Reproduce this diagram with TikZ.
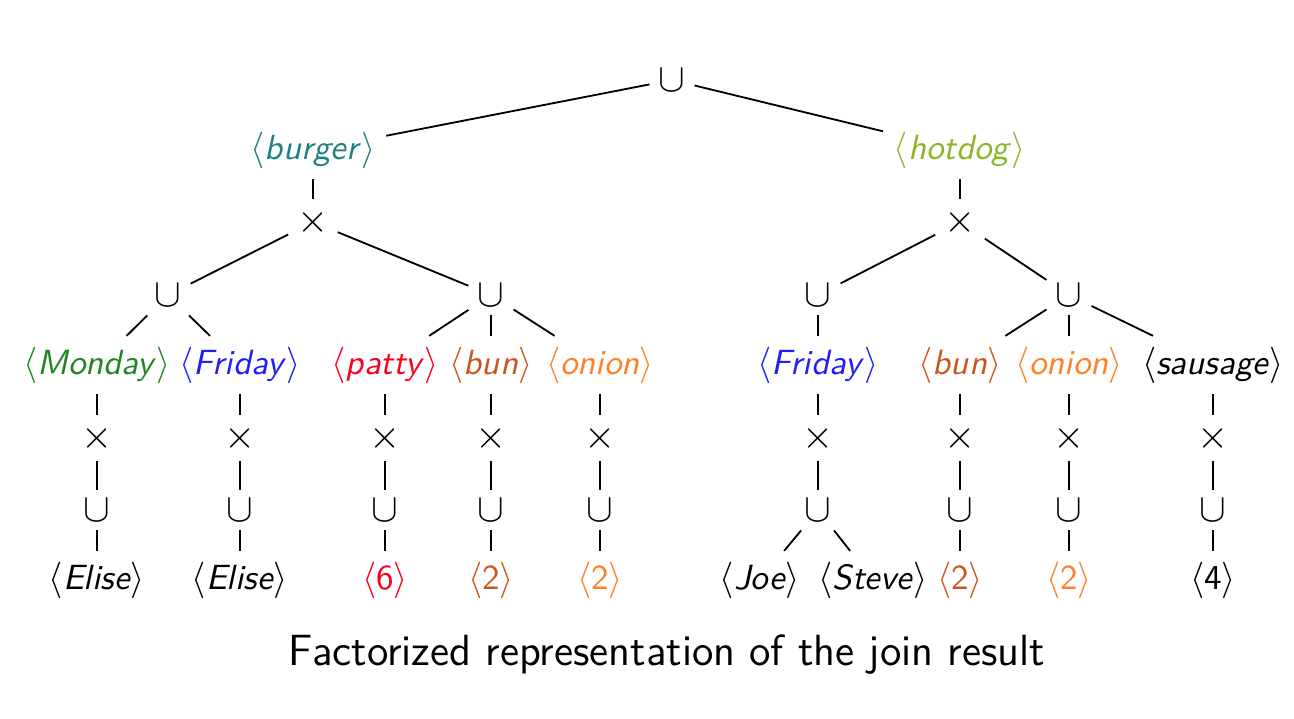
\documentclass[tikz,border=0pt]{standalone}
\usetikzlibrary{positioning}
\definecolor{burgerc}{RGB}{32,128,128}
\definecolor{hotdogc}{RGB}{140,182,40}
\definecolor{mondayc}{RGB}{34,134,34}
\definecolor{fridayc}{RGB}{30,30,250}
\definecolor{pattyc}{RGB}{250,0,30}
\definecolor{bunc}{RGB}{204,85,30}
\definecolor{onionc}{RGB}{255,128,40}
\newcommand{\tup}[1]{$\langle$#1$\rangle$}
\tikzset{every node/.style={font=\sffamily\fontsize{10.5}{12}\selectfont, inner sep=3pt},
	sym/.style={font=\fontsize{13}{15}\selectfont, inner sep=2.5pt}}

\begin{document}
\begin{tikzpicture}[x=0.3pt, y=-0.3pt, line width=0.55pt]
	\useasboundingbox (0,0) rectangle (1294,718);
	% top of the tree
	\node [sym] (root) at (672,80) {$\cup$};
	\node [burgerc] (burger) at (313,150) {\tup{\textit{burger}}};
	\node [hotdogc] (hotdog) at (960,150) {\tup{\textit{hotdog}}};
	\node [sym] (bx) at (313,222) {$\times$};
	\node [sym] (hx) at (960,222) {$\times$};
	\node [sym] (bu1) at (168,295) {$\cup$};
	\node [sym] (bu2) at (491,295) {$\cup$};
	\node [sym] (hu1) at (818,295) {$\cup$};
	\node [sym] (hu2) at (1069,295) {$\cup$};
	\draw (root) -- (burger);
	\draw (root) -- (hotdog);
	\draw (burger) -- (bx);
	\draw (hotdog) -- (hx);
	\draw (bx) -- (bu1);
	\draw (bx) -- (bu2);
	\draw (hx) -- (hu1);
	\draw (hx) -- (hu2);
	% one column per value
	\foreach \n/\x/\c/\t/\p/\lc/\l in {
		mon/97/mondayc/Monday/bu1/black/\textit{Elise},
		fri/240/fridayc/Friday/bu1/black/\textit{Elise},
		patty/385/pattyc/patty/bu2/pattyc/6,
		bun/491/bunc/bun/bu2/bunc/2,
		onion/600/onionc/onion/bu2/onionc/2,
		hbun/960/bunc/bun/hu2/bunc/2,
		honion/1069/onionc/onion/hu2/onionc/2,
		sausage/1213/black/sausage/hu2/black/4}{
		\node [\c] (\n) at (\x,365) {\tup{\textit{\t}}};
		\node [sym] (\n x) at (\x,438) {$\times$};
		\node [sym] (\n u) at (\x,510) {$\cup$};
		\node [\lc] (\n l) at (\x,580) {\tup{\l}};
		\draw (\p) -- (\n);
		\draw (\n) -- (\n x);
		\draw (\n x) -- (\n u);
		\draw (\n u) -- (\n l);
	}
	% the friday column with two leaves
	\node [fridayc] (hfri) at (818,365) {\tup{\textit{Friday}}};
	\node [sym] (hfrix) at (818,438) {$\times$};
	\node [sym] (hfriu) at (818,510) {$\cup$};
	\node (joe) at (760,580) {\tup{\textit{Joe}}};
	\node (steve) at (873,580) {\tup{\textit{Steve}}};
	\draw (hu1) -- (hfri);
	\draw (hfri) -- (hfrix);
	\draw (hfrix) -- (hfriu);
	\draw (hfriu) -- (joe);
	\draw (hfriu) -- (steve);
	\node [font=\sffamily\fontsize{13.1}{15}\selectfont] (caption) at (667,655) {Factorized representation of the join result};
\end{tikzpicture}
\end{document}
